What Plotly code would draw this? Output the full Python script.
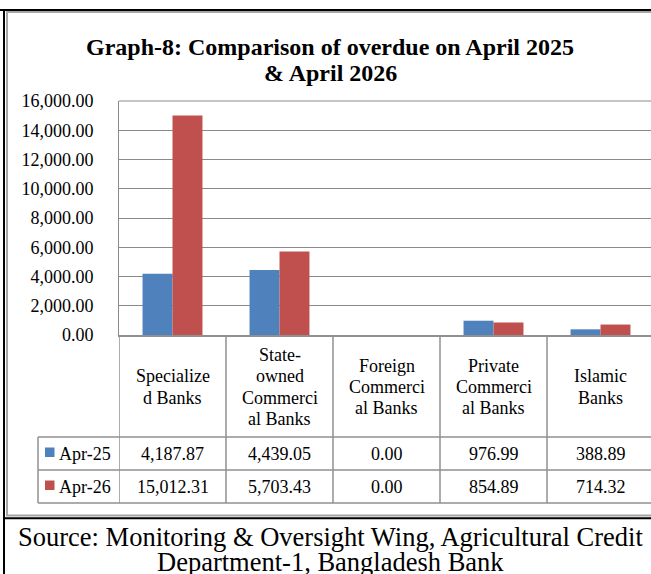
import plotly.graph_objects as go

# ---------------- data ----------------
categories = ["Specialized Banks", "State-owned Commercial Banks",
              "Foreign Commercial Banks", "Private Commercial Banks", "Islamic Banks"]
category_labels = [["Specialize", "d Banks"],
                   ["State-", "owned", "Commerci", "al Banks"],
                   ["Foreign", "Commerci", "al Banks"],
                   ["Private", "Commerci", "al Banks"],
                   ["Islamic", "Banks"]]
series_names = ["Apr-25", "Apr-26"]
apr25 = [4187.87, 4439.05, 0.00, 976.99, 388.89]
apr26 = [15012.31, 5703.43, 0.00, 854.89, 714.32]
y_ticks = [0, 2000, 4000, 6000, 8000, 10000, 12000, 14000, 16000]
title_lines = ["Graph-8: Comparison of overdue on April 2025", "& April 2026"]
source_lines = ["Source: Monitoring & Oversight Wing, Agricultural Credit",
                "Department-1, Bangladesh Bank"]

# ---------------- style ----------------
W, H = 651, 574
FONT = "Liberation Serif"
BLUE, RED = "#4F81BD", "#C0504D"
GRID = "#8a8a8a"
TLINE = "#909090"

def px(x):
    return x / W

def py(y):
    return 1 - y / H

PLOT_L, PLOT_T, PLOT_B = 119, 101, 335
ROW1_T, ROW2_T, ROW_B = 437, 470, 503
LEG_L = 38
COL_W = 107.0

fig = go.Figure()
series_vals = [apr25, apr26]
colors = [BLUE, RED]
for name, vals, col in zip(series_names, series_vals, colors):
    fig.add_trace(go.Bar(x=categories, y=vals, name=name, marker=dict(color=col, line=dict(width=0)),
                         showlegend=False))

n_vis = (W - PLOT_L) / COL_W
fig.update_layout(
    template="none",
    width=W, height=H, autosize=False, showlegend=False,
    margin=dict(l=0, r=0, t=0, b=0, pad=0, autoexpand=False),
    paper_bgcolor="white", plot_bgcolor="white",
    barmode="group", bargap=0.44, bargroupgap=0,
    font=dict(family=FONT, color="black"),
    xaxis=dict(domain=[px(PLOT_L), 1], type="category", range=[-0.5, -0.5 + n_vis],
               automargin=False,
               showticklabels=False, showgrid=False, zeroline=False,
               showline=True, linecolor=TLINE, linewidth=1.5, ticks=""),
    yaxis=dict(domain=[py(PLOT_B), py(PLOT_T)], range=[0, 16000], automargin=False,
               tickvals=y_ticks, tickformat=",.2f", ticks="",
               ticklabelstandoff=21,
               tickfont=dict(family=FONT, size=18, color="black"),
               showgrid=True, gridcolor=GRID, gridwidth=1, zeroline=False,
               showline=True, linecolor=GRID, linewidth=1),
)

shapes = []
# plot area top border
shapes.append(dict(type="line", xref="paper", yref="paper", x0=px(PLOT_L), x1=1,
                   y0=py(PLOT_T), y1=py(PLOT_T), line=dict(color=GRID, width=1)))
# table vertical lines
for i in range(len(categories)):
    shapes.append(dict(type="line", xref="x", yref="paper", x0=i - 0.5, x1=i - 0.5,
                       y0=py(PLOT_B), y1=py(ROW_B), line=dict(color=TLINE, width=1.5)))
# legend column left
shapes.append(dict(type="line", xref="paper", yref="paper", x0=px(LEG_L), x1=px(LEG_L),
                   y0=py(ROW1_T), y1=py(ROW_B), line=dict(color=TLINE, width=1.5)))
for yy in (ROW1_T, ROW2_T, ROW_B):
    shapes.append(dict(type="line", xref="paper", yref="paper", x0=px(LEG_L), x1=1,
                       y0=py(yy), y1=py(yy), line=dict(color=TLINE, width=1.5)))
# legend squares
for k, col in enumerate(colors):
    cy = (ROW1_T + ROW2_T) / 2 if k == 0 else (ROW2_T + ROW_B) / 2
    shapes.append(dict(type="rect", xref="paper", yref="paper", x0=px(45), x1=px(54.5),
                       y0=py(cy + 3.5), y1=py(cy - 6), fillcolor=col, line=dict(width=0)))
# chart border (gray) and frame (black)
shapes.append(dict(type="rect", xref="paper", yref="paper", x0=px(7), x1=px(662),
                   y0=py(515.5), y1=py(12), line=dict(color="#a6a6a6", width=2)))
shapes.append(dict(type="line", xref="paper", yref="paper", x0=0, x1=1,
                   y0=py(10), y1=py(10), line=dict(color="black", width=2)))
shapes.append(dict(type="line", xref="paper", yref="paper", x0=px(4), x1=px(4),
                   y0=py(9), y1=0, line=dict(color="black", width=2)))
shapes.append(dict(type="line", xref="paper", yref="paper", x0=px(4), x1=1,
                   y0=py(518.3), y1=py(518.3), line=dict(color="black", width=2)))
fig.update_layout(shapes=shapes)

ann = []
# title
for j, t in enumerate(title_lines):
    ann.append(dict(xref="paper", yref="paper", x=px(330), y=py(47 + 26 * j), text="<b>%s</b>" % t,
                    showarrow=False, xanchor="center", yanchor="middle",
                    font=dict(family=FONT, size=24, color="black")))
# category labels in header row
for i, lines in enumerate(category_labels):
    n = len(lines)
    for j, ln in enumerate(lines):
        yy = 387 + (j - (n - 1) / 2) * 21.3
        ann.append(dict(xref="x", yref="paper", x=i, y=py(yy), text=ln, showarrow=False,
                        xanchor="center", yanchor="middle",
                        font=dict(family=FONT, size=18, color="black")))
# data rows
row_centers = [(ROW1_T + ROW2_T) / 2, (ROW2_T + ROW_B) / 2]
for k, (name, vals) in enumerate(zip(series_names, series_vals)):
    ann.append(dict(xref="paper", yref="paper", x=px(57), y=py(row_centers[k]), text=name,
                    showarrow=False, xanchor="left", yanchor="middle",
                    font=dict(family=FONT, size=18, color="black")))
    for i, v in enumerate(vals):
        ann.append(dict(xref="x", yref="paper", x=i, y=py(row_centers[k]), text=f"{v:,.2f}",
                        showarrow=False, xanchor="center", yanchor="middle",
                        font=dict(family=FONT, size=18, color="black")))
# source
for j, t in enumerate(source_lines):
    ann.append(dict(xref="paper", yref="paper", x=px(330), y=py(537 + 25 * j), text=t,
                    showarrow=False, xanchor="center", yanchor="middle",
                    font=dict(family=FONT, size=26.5, color="black")))
fig.update_layout(annotations=ann)

fig.write_html("out.html", config={"displayModeBar": False, "staticPlot": True},
               post_script="document.body.style.margin='0';document.body.style.overflow='hidden';")
